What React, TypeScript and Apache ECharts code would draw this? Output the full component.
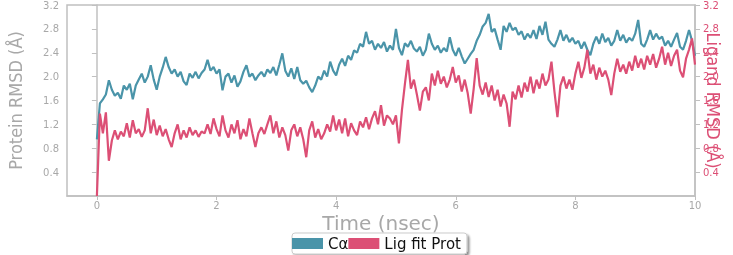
import React, { useEffect, useRef } from "react";
import * as echarts from "echarts";

const timeStep = 0.05;
const caValues = [
  0.95, 1.55, 1.62, 1.7, 1.94, 1.78, 1.68, 1.73, 1.63, 1.85, 1.78, 1.88, 1.62, 1.85, 1.95, 2.05, 1.9, 2.0, 2.19, 1.95,
  1.78, 2.0, 2.15, 2.33, 2.16, 2.05, 2.12, 2.0, 2.08, 1.92, 1.86, 2.05, 1.98, 2.08, 1.97, 2.06, 2.12, 2.28, 2.1, 2.16,
  2.05, 2.12, 1.77, 2.0, 2.05, 1.9, 2.02, 1.83, 1.92, 2.08, 2.19, 2.0, 2.05, 1.94, 2.02, 2.08, 2.0, 2.12, 2.06, 2.16,
  2.02, 2.2, 2.39, 2.1, 2.0, 2.14, 1.96, 2.16, 1.94, 1.88, 1.93, 1.82, 1.74, 1.85, 2.0, 1.95, 2.1, 2.0, 2.25, 2.1,
  2.02, 2.2, 2.3, 2.18, 2.35, 2.28, 2.44, 2.4, 2.55, 2.5, 2.75, 2.55, 2.6, 2.45, 2.55, 2.48, 2.58, 2.42, 2.52, 2.45,
  2.8, 2.48, 2.36, 2.56, 2.5, 2.6, 2.47, 2.42, 2.5, 2.35, 2.45, 2.72, 2.55, 2.45, 2.52, 2.4, 2.48, 2.42, 2.66, 2.45,
  2.35, 2.48, 2.34, 2.22, 2.3, 2.38, 2.45, 2.6, 2.7, 2.84, 2.9, 3.05, 2.75, 2.8, 2.62, 2.45, 2.85, 2.75, 2.9, 2.78,
  2.82, 2.7, 2.76, 2.62, 2.72, 2.65, 2.78, 2.63, 2.85, 2.7, 2.92, 2.62, 2.55, 2.5, 2.62, 2.78, 2.6, 2.7, 2.58, 2.65,
  2.55, 2.6, 2.47, 2.58, 2.45, 2.36, 2.55, 2.67, 2.55, 2.72, 2.58, 2.65, 2.52, 2.6, 2.78, 2.6, 2.7, 2.57, 2.65, 2.6,
  2.72, 2.95, 2.55, 2.5, 2.62, 2.78, 2.62, 2.72, 2.63, 2.67, 2.52, 2.6, 2.5, 2.62, 2.73, 2.5, 2.45, 2.6, 2.78, 2.6,
  2.35,
];
const ligValues = [
  0.0, 1.38, 1.05, 1.4, 0.59, 0.93, 1.1, 0.95, 1.08, 1.0, 1.22, 0.98, 1.27, 1.05, 1.12, 0.99, 1.1, 1.47, 1.05, 1.28,
  1.02, 1.18, 1.0, 1.12, 0.95, 0.82, 1.05, 1.2, 0.95, 1.1, 0.98, 1.15, 1.02, 1.1, 0.99, 1.08, 1.05, 1.2, 1.04, 1.3,
  1.12, 1.0, 1.35, 1.1, 0.98, 1.2, 1.05, 1.27, 0.95, 1.12, 1.0, 1.3, 1.05, 0.82, 1.05, 1.15, 1.04, 1.2, 1.35, 1.05,
  1.25, 0.98, 1.15, 1.02, 0.76, 1.1, 1.2, 1.0, 1.15, 0.95, 0.65, 1.1, 1.25, 0.98, 1.12, 0.95, 1.05, 1.2, 1.08, 1.35,
  1.1, 1.28, 1.05, 1.3, 1.0, 1.22, 1.1, 1.02, 1.25, 1.15, 1.32, 1.12, 1.3, 1.42, 1.2, 1.52, 1.18, 1.35, 1.3, 1.2,
  1.35, 0.88, 1.44, 1.88, 2.28, 1.8, 1.95, 1.7, 1.43, 1.75, 1.82, 1.6, 2.05, 1.85, 2.1, 1.88, 2.0, 1.82, 1.95, 2.16,
  1.9, 2.02, 1.75, 1.95, 1.72, 1.38, 1.8, 2.31, 1.85, 1.7, 1.9, 1.66, 1.85, 1.6, 1.78, 1.5, 1.7, 1.55, 1.16, 1.75,
  1.62, 1.85, 1.65, 1.9, 1.75, 2.0, 1.72, 1.95, 1.8, 2.05, 1.85, 1.95, 2.25, 1.75, 1.32, 1.85, 2.0, 1.8, 1.95, 1.78,
  2.05, 2.25, 1.98, 2.15, 2.45, 2.05, 2.2, 1.95, 2.15, 2.0, 2.1, 1.95, 1.69, 2.05, 2.3, 2.08, 2.2, 2.05, 2.25, 2.1,
  2.35, 2.15, 2.3, 2.12, 2.35, 2.2, 2.38, 2.15, 2.3, 2.5, 2.2, 2.4, 2.18, 2.35, 2.45, 2.1, 1.99, 2.3, 2.45, 2.64,
  2.2,
];
const xTicks = [0, 2, 4, 6, 8, 10];
const yTicks = [0.4, 0.8, 1.2, 1.6, 2.0, 2.4, 2.8, 3.2];
const seriesNames = ["C\u03b1", "Lig fit Prot"];

const BLUE = "#4a94a9";
const RED = "#dc4f75";
const GRAY = "#a8a8a8";
const AXIS = "#c0c0c0";
const NARROW = "'DejaVu Sans Condensed', 'Liberation Sans Narrow', 'Liberation Sans', sans-serif";

export default function App() {
  const ref = useRef<HTMLDivElement>(null);
  useEffect(() => {
    if (!ref.current) return;
    const chart = echarts.init(ref.current, undefined, { renderer: "svg" });
    const toPairs = (vals: number[]) => vals.map((v, i) => [Math.round(i * timeStep * 100) / 100, v]);
    const yAxisBase = (color: string) => ({
      type: "value" as const,
      min: 0,
      max: 3.2,
      nameMoveOverlap: false,
      splitLine: { show: false },
      axisLine: { show: true, lineStyle: { color: AXIS, width: 1.5 } },
      axisTick: { show: true, length: 5, lineStyle: { color: AXIS }, customValues: yTicks },
      axisLabel: {
        color,
        fontSize: 10,
        fontFamily: "DejaVu Sans",
        margin: 8,
        customValues: yTicks,
        formatter: (v: number) => v.toFixed(1),
      },
    });
    chart.setOption({
      animation: false,
      grid: {
        left: 67,
        right: 38,
        top: 5,
        bottom: 59,
        containLabel: false,
        outerBoundsMode: "none",
        show: true,
        borderColor: AXIS,
        borderWidth: 1.5,
      },
      legend: {
        left: 292,
        bottom: 1,
        data: seriesNames,
        icon: "rect",
        itemWidth: 31,
        itemHeight: 11,
        itemGap: 0,
        padding: [3, 6, 3, 0],
        borderColor: "#cccccc",
        borderWidth: 1,
        borderRadius: 3,
        backgroundColor: "#ffffff",
        shadowColor: "rgba(0,0,0,0.45)",
        shadowBlur: 2,
        shadowOffsetX: 2,
        shadowOffsetY: 2,
        textStyle: { color: "#111", fontSize: 15, fontFamily: "DejaVu Sans" },
      },
      xAxis: {
        type: "value",
        min: -0.5,
        max: 10,
        name: "Time (nsec)",
        nameLocation: "middle",
        nameGap: 17,
        nameMoveOverlap: false,
        nameTextStyle: { color: GRAY, fontSize: 20, fontFamily: "DejaVu Sans" },
        splitLine: { show: false },
        axisLine: { show: true, onZero: false, lineStyle: { color: AXIS, width: 1.5 } },
        axisTick: { show: true, length: 4, lineStyle: { color: AXIS }, customValues: xTicks },
        axisLabel: { color: GRAY, fontSize: 10, fontFamily: "DejaVu Sans", margin: 4, customValues: xTicks },
      },
      yAxis: [
        {
          ...yAxisBase(GRAY),
          position: "left",
          name: "Protein RMSD (\u00c5)",
          nameLocation: "middle",
          nameRotate: 90,
          nameGap: 43,
          nameTextStyle: { color: GRAY, fontSize: 18, fontFamily: NARROW },
        },
        {
          ...yAxisBase(RED),
          position: "right",
          name: "Ligand RMSD (\u00c5)",
          nameLocation: "middle",
          nameRotate: -90,
          nameGap: 9,
          nameTextStyle: { color: RED, fontSize: 18, fontFamily: NARROW },
        },
      ],
      series: [
        {
          name: seriesNames[0],
          type: "line",
          yAxisIndex: 0,
          data: toPairs(caValues),
          showSymbol: false,
          symbol: "none",
          lineStyle: { color: BLUE, width: 2.2 },
          itemStyle: { color: BLUE },
        },
        {
          name: seriesNames[1],
          type: "line",
          yAxisIndex: 1,
          data: toPairs(ligValues),
          showSymbol: false,
          symbol: "none",
          lineStyle: { color: RED, width: 2.2 },
          itemStyle: { color: RED },
        },
      ],
    });
    return () => chart.dispose();
  }, []);
  return <div ref={ref} style={{ position: "fixed", left: 0, top: 0, width: 733, height: 255 }} />;
}
